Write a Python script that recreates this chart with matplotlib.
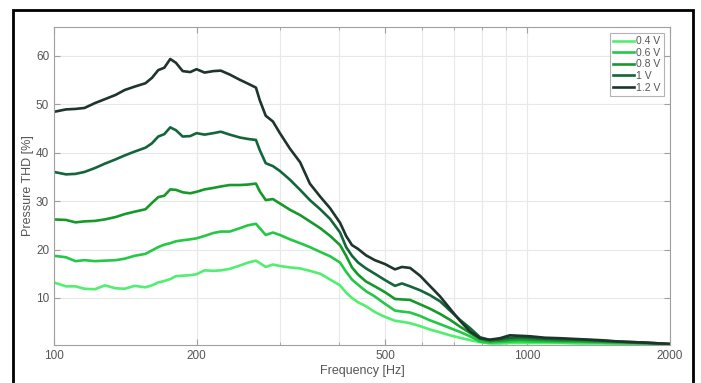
import matplotlib
matplotlib.use("Agg")
import matplotlib.pyplot as plt
from matplotlib.patches import Rectangle
from matplotlib.ticker import FixedLocator, NullFormatter

plt.rcParams['font.family'] = ['Liberation Sans', 'DejaVu Sans']

# frequency points [Hz], shared by all curves
freq = [100, 106, 111, 116, 122, 128, 135, 141, 148, 156, 161, 166, 171, 176, 181,
        187, 194, 200, 208, 217, 225, 235, 247, 257, 267, 272, 280, 290, 300, 315,
        331, 347, 365, 383, 402, 414, 426, 439, 456, 476, 500, 525, 543, 565, 593,
        622, 654, 686, 720, 756, 794, 833, 875, 918, 964, 1012, 1089, 1171, 1291,
        1423, 1568, 1771, 2000]

# pressure THD [%] per drive voltage
thd_04 = [13.2, 12.4, 12.4, 11.9, 11.8, 12.6, 12.0, 11.9, 12.5, 12.2, 12.6, 13.2, 13.5,
          13.9, 14.5, 14.6, 14.7, 14.9, 15.7, 15.6, 15.7, 16.0, 16.7, 17.3, 17.7, 17.2,
          16.4, 16.9, 16.6, 16.3, 16.1, 15.6, 15.0, 13.8, 12.6, 11.1, 10.0, 9.1, 8.3,
          7.1, 6.1, 5.3, 5.1, 4.8, 4.2, 3.5, 2.9, 2.3, 1.8, 1.3, 0.9, 0.6, 0.6, 0.7,
          0.7, 0.7, 0.7, 0.7, 0.6, 0.6, 0.5, 0.5, 0.4]
thd_06 = [18.7, 18.4, 17.6, 17.8, 17.6, 17.7, 17.8, 18.1, 18.7, 19.1, 19.8, 20.5, 21.0,
          21.3, 21.7, 21.9, 22.1, 22.3, 22.8, 23.4, 23.7, 23.7, 24.4, 25.0, 25.3, 24.4,
          23.0, 23.5, 23.0, 22.1, 21.3, 20.5, 19.5, 18.6, 17.3, 15.4, 13.8, 12.7, 11.4,
          10.3, 8.8, 7.4, 7.2, 7.0, 6.3, 5.4, 4.6, 3.8, 3.0, 2.1, 1.0, 0.8, 0.9, 1.0,
          1.1, 1.0, 1.0, 0.9, 0.9, 0.8, 0.7, 0.6, 0.4]
thd_08 = [26.2, 26.1, 25.6, 25.8, 25.9, 26.2, 26.7, 27.3, 27.8, 28.3, 29.6, 30.8, 31.1,
          32.4, 32.3, 31.8, 31.6, 31.9, 32.4, 32.7, 33.0, 33.3, 33.3, 33.4, 33.6, 32.0,
          30.2, 30.4, 29.5, 28.2, 27.1, 25.8, 24.4, 22.8, 20.9, 18.7, 16.3, 14.8, 13.4,
          12.4, 11.2, 9.8, 9.7, 9.6, 8.7, 7.8, 6.7, 5.5, 4.1, 2.8, 1.5, 1.1, 1.2, 1.4,
          1.5, 1.4, 1.3, 1.2, 1.1, 1.0, 0.9, 0.7, 0.5]
thd_10 = [36.0, 35.5, 35.6, 36.0, 36.8, 37.7, 38.6, 39.4, 40.2, 41.0, 41.9, 43.3, 43.8,
          45.2, 44.6, 43.3, 43.4, 44.0, 43.7, 44.0, 44.3, 43.7, 43.1, 42.8, 42.6, 40.5,
          37.8, 37.2, 36.2, 34.4, 32.3, 30.2, 28.3, 26.3, 23.5, 20.5, 18.7, 17.3, 16.1,
          15.0, 13.7, 12.5, 13.0, 12.4, 11.6, 10.6, 9.3, 7.4, 5.5, 3.8, 1.9, 1.3, 1.5,
          1.8, 1.9, 1.8, 1.6, 1.5, 1.4, 1.2, 1.0, 0.8, 0.5]
thd_12 = [48.4, 48.9, 49.0, 49.2, 50.2, 51.0, 51.9, 52.9, 53.6, 54.3, 55.4, 57.0, 57.5,
          59.3, 58.5, 56.8, 56.6, 57.2, 56.5, 56.8, 56.9, 56.1, 55.0, 54.2, 53.4, 50.8,
          47.6, 46.4, 44.0, 40.8, 38.0, 33.6, 30.9, 28.5, 25.5, 22.8, 20.9, 20.1, 18.8,
          17.8, 17.0, 15.9, 16.4, 16.2, 14.6, 12.5, 10.3, 7.8, 5.3, 3.1, 1.7, 1.4, 1.7,
          2.3, 2.2, 2.1, 1.8, 1.7, 1.5, 1.3, 1.0, 0.8, 0.5]

labels = ['0.4 V', '0.6 V', '0.8 V', '1 V', '1.2 V']
colors = ['#52ee70', '#25c845', '#17982a', '#14653a', '#1d352a']
series = [thd_04, thd_06, thd_08, thd_10, thd_12]

fig = plt.figure(figsize=(7.01, 3.83), dpi=100)
ax = fig.add_axes([54 / 701, 1 - 345 / 383, (670 - 54) / 701, (345 - 27) / 383])

for vals, lab, col in zip(series, labels, colors):
    ax.plot(freq, vals, color=col, lw=1.9, label=lab)

ax.set_xscale('log')
ax.set_xlim(100, 2000)
ax.set_ylim(0.3, 65.9)
ax.xaxis.set_major_locator(FixedLocator([100, 200, 500, 1000, 2000]))
ax.set_xticklabels(['100', '200', '500', '1000', '2000'])
ax.xaxis.set_minor_locator(FixedLocator([300, 400, 600, 700, 800, 900]))
ax.xaxis.set_minor_formatter(NullFormatter())
ax.set_yticks([10, 20, 30, 40, 50, 60])

ax.grid(True, which='both', color='#e8e8e8', lw=0.8)
ax.set_axisbelow(True)
for s in ax.spines.values():
    s.set_color('#a0a0a0')
    s.set_linewidth(0.8)
ax.tick_params(which='both', direction='in', top=True, right=True, colors='#a0a0a0',
               labelcolor='#555555', labelsize=8.5)
ax.tick_params(which='major', length=4)
ax.tick_params(which='minor', length=2.5)

ax.set_xlabel('Frequency [Hz]', fontsize=9, color='#555555', labelpad=2)
ax.set_ylabel('Pressure THD [%]', fontsize=9, color='#555555', labelpad=1)

leg = ax.legend(loc='upper right', fontsize=7.5, frameon=True, fancybox=False,
                handlelength=2.0, handletextpad=0.2, labelspacing=0.15,
                borderpad=0.3, borderaxespad=0.6)
leg.get_frame().set_edgecolor('#a0a0a0')
leg.get_frame().set_linewidth(0.8)
for t in leg.get_texts():
    t.set_color('#555555')

# black frame around the picture
fig.patches.append(Rectangle((13 / 701, -0.2), (693 - 13) / 701, 1.2 - 10 / 383,
                             transform=fig.transFigure, fill=False, ec='black', lw=2))

fig.savefig('out.png', dpi=100)
